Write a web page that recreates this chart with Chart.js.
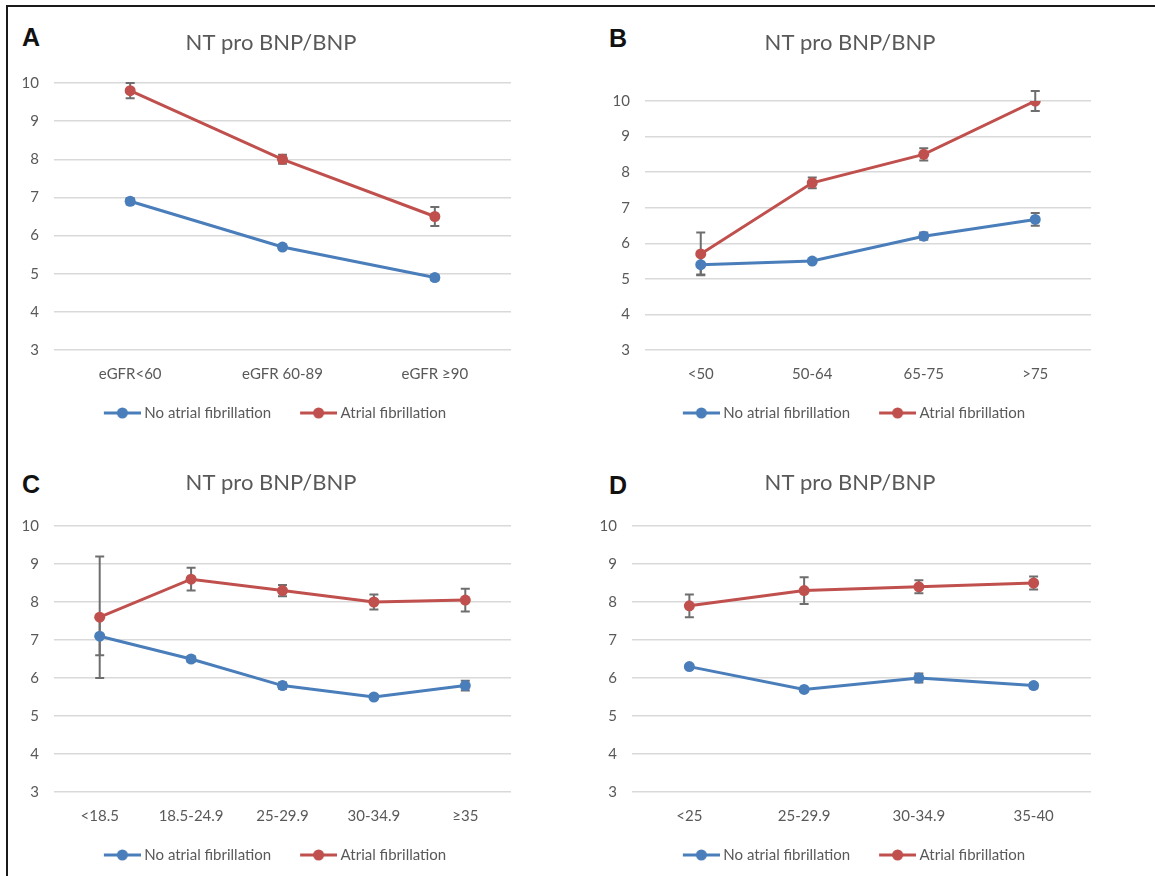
<!DOCTYPE html>
<html>
<head>
<meta charset="utf-8">
<script src="https://cdn.jsdelivr.net/npm/chart.js@4.4.1/dist/chart.umd.min.js"></script>
<style>
  html, body { margin: 0; padding: 0; background: #fff; }
  #page { position: relative; width: 1155px; height: 876px; overflow: hidden; }
  #frame { position: absolute; left: 6px; top: 5px; width: 1200px; height: 900px;
           border-top: 2px solid #1a1a1a; border-left: 2px solid #1a1a1a; }
  .box { position: absolute; }
  .letter { position: absolute; font: bold 25px "Liberation Sans", Arial, sans-serif;
            line-height: 1; color: #111; }
</style>
</head>
<body>
<div id="page">
  <div id="frame"></div>
  <div class="letter" style="left:22px;top:25px">A</div>
  <div class="letter" style="left:609px;top:26px">B</div>
  <div class="letter" style="left:22px;top:472px">C</div>
  <div class="letter" style="left:609px;top:473px">D</div>
  <div class="box" id="wA"><canvas id="cA"></canvas></div>
  <div class="box" id="wB"><canvas id="cB"></canvas></div>
  <div class="box" id="wC"><canvas id="cC"></canvas></div>
  <div class="box" id="wD"><canvas id="cD"></canvas></div>
</div>
<script>
// A: eGFR
var catsA = ["eGFR<60", "eGFR 60-89", "eGFR \u226590"];
var noAfA = [6.9, 5.7, 4.9];
var noAfErrA = [0.08, 0.06, 0.07];
var afA = [9.8, 8.0, 6.5];
var afErrA = [0.2, 0.12, 0.25];

// B: age
var catsB = ["<50", "50-64", "65-75", ">75"];
var noAfB = [5.4, 5.5, 6.2, 6.67];
var noAfErrB = [0.28, 0.03, 0.1, 0.18];
var afB = [5.7, 7.7, 8.5, 10.0];
var afErrB = [0.6, 0.15, 0.17, 0.28];

// C: BMI
var catsC = ["<18.5", "18.5-24.9", "25-29.9", "30-34.9", "\u226535"];
var noAfC = [7.1, 6.5, 5.8, 5.5, 5.8];
var noAfErrC = [0.5, 0.07, 0.08, 0.04, 0.13];
var afC = [7.6, 8.6, 8.3, 8.0, 8.05];
var afErrC = [1.6, 0.3, 0.15, 0.2, 0.3];

// D: BMI (short)
var catsD = ["<25", "25-29.9", "30-34.9", "35-40"];
var noAfD = [6.3, 5.7, 6.0, 5.8];
var noAfErrD = [0.05, 0.03, 0.12, 0.07];
var afD = [7.9, 8.3, 8.4, 8.5];
var afErrD = [0.3, 0.35, 0.17, 0.17];

var yTicks = [3, 4, 5, 6, 7, 8, 9, 10];

var BLUE = "#4a7ebb";
var RED = "#c0504d";
var GREY_TXT = "#595959";
var FONT = "Lato, 'Open Sans', sans-serif";

// line+dot marker for the legend (left part of the canvas stays empty)
function legendMark(color) {
  var c = document.createElement("canvas");
  c.width = 49; c.height = 12;
  var g = c.getContext("2d");
  g.strokeStyle = color; g.lineWidth = 3;
  g.beginPath(); g.moveTo(12, 6); g.lineTo(49, 6); g.stroke();
  g.fillStyle = color;
  g.beginPath(); g.arc(30.5, 6, 5.5, 0, Math.PI * 2); g.fill();
  return c;
}
var markBlue = legendMark(BLUE);
var markRed = legendMark(RED);

// error bars, drawn under the points
var errorBars = {
  id: "errorBars",
  beforeDatasetsDraw: function(chart) {
    var ctx = chart.ctx, ys = chart.scales.y;
    ctx.save();
    ctx.strokeStyle = "#6e6e6e";
    ctx.lineWidth = 2;
    chart.data.datasets.forEach(function(ds, di) {
      var meta = chart.getDatasetMeta(di);
      ds.errors.forEach(function(e, i) {
        var x = meta.data[i].x;
        var top = ys.getPixelForValue(ds.data[i] + e);
        var bot = ys.getPixelForValue(ds.data[i] - e);
        ctx.beginPath();
        ctx.moveTo(x, top); ctx.lineTo(x, bot);
        ctx.moveTo(x - 4.5, top); ctx.lineTo(x + 4.5, top);
        ctx.moveTo(x - 4.5, bot); ctx.lineTo(x + 4.5, bot);
        ctx.stroke();
      });
    });
    ctx.restore();
  }
};

function panel(id, box, plot, titleY, legendY, cats, noAf, noAfErr, af, afErr) {
  var wrap = document.getElementById("w" + id);
  wrap.style.left = box.x + "px"; wrap.style.top = box.y + "px";
  wrap.style.width = box.w + "px"; wrap.style.height = box.h + "px";

  var titleSize = 22, titleH = titleSize * 1.2;
  var legSize = 15, legPad = 21;
  var side = box.x + box.w - plot.right;
  var yW = plot.left - box.x;
  var legTop = legendY - legPad - legSize / 2;
  var xH = legTop - plot.bottom;
  var padBottom = box.y + box.h - (legendY + legSize / 2 + 10);

  var ds = function(label, data, err, color, mark) {
    return {
      label: label, data: data, errors: err, mark: mark,
      borderColor: color, backgroundColor: color,
      borderWidth: 3, pointRadius: 5.5, pointHoverRadius: 5.5,
      pointBorderWidth: 0, pointBackgroundColor: color, tension: 0
    };
  };

  return new Chart(document.getElementById("c" + id), {
    type: "line",
    data: {
      labels: cats,
      datasets: [
        ds("No atrial fibrillation", noAf, noAfErr, BLUE, markBlue),
        ds("Atrial fibrillation", af, afErr, RED, markRed)
      ]
    },
    plugins: [errorBars],
    options: {
      responsive: true,
      maintainAspectRatio: false,
      animation: false,
      events: [],
      layout: { padding: { left: 0, right: 0, top: 0, bottom: padBottom } },
      plugins: {
        title: {
          display: true, text: "NT pro BNP/BNP", color: GREY_TXT,
          font: { family: FONT, size: titleSize, weight: "normal" },
          padding: { top: titleY - box.y - titleH / 2, bottom: plot.top - (titleY + titleH / 2) }
        },
        legend: {
          position: "bottom",
          labels: {
            usePointStyle: true, pointStyleWidth: 41, padding: legPad,
            color: GREY_TXT, font: { family: FONT, size: legSize },
            generateLabels: function(chart) {
              return chart.data.datasets.map(function(d, i) {
                return { text: d.label, pointStyle: d.mark, fontColor: GREY_TXT,
                         datasetIndex: i, hidden: false, lineWidth: 0 };
              });
            }
          }
        },
        tooltip: { enabled: false }
      },
      scales: {
        x: {
          offset: true,
          grid: { display: false, drawTicks: false },
          border: { display: false },
          ticks: { color: GREY_TXT, font: { family: FONT, size: 15 }, padding: 15 },
          afterFit: function(s) { s.height = xH; }
        },
        y: {
          min: 3, max: 10,
          afterBuildTicks: function(s) { s.ticks = yTicks.map(function(v) { return { value: v }; }); },
          grid: { color: "#d9d9d9", lineWidth: 1.5, drawTicks: false },
          border: { display: false },
          ticks: { color: GREY_TXT, font: { family: FONT, size: 15 }, padding: 15 },
          afterFit: function(s) { s.width = yW; }
        },
        // empty gutter on the right so the title stays centred on the panel
        yr: {
          type: "linear", position: "right",
          grid: { display: false }, border: { display: false },
          ticks: { display: false },
          afterFit: function(s) { s.width = side; }
        }
      }
    }
  });
}

panel("A", { x: 10, y: 8, w: 522, h: 428 }, { left: 54, right: 511, top: 83, bottom: 350 }, 43, 413,
      catsA, noAfA, noAfErrA, afA, afErrA);
panel("B", { x: 590, y: 8, w: 520, h: 428 }, { left: 645, right: 1091, top: 101, bottom: 350 }, 43, 413,
      catsB, noAfB, noAfErrB, afB, afErrB);
panel("C", { x: 10, y: 448, w: 522, h: 428 }, { left: 54, right: 511, top: 526, bottom: 792 }, 483, 855,
      catsC, noAfC, noAfErrC, afC, afErrC);
panel("D", { x: 590, y: 448, w: 520, h: 428 }, { left: 632, right: 1091, top: 526, bottom: 792 }, 483, 855,
      catsD, noAfD, noAfErrD, afD, afErrD);
</script>
</body>
</html>
